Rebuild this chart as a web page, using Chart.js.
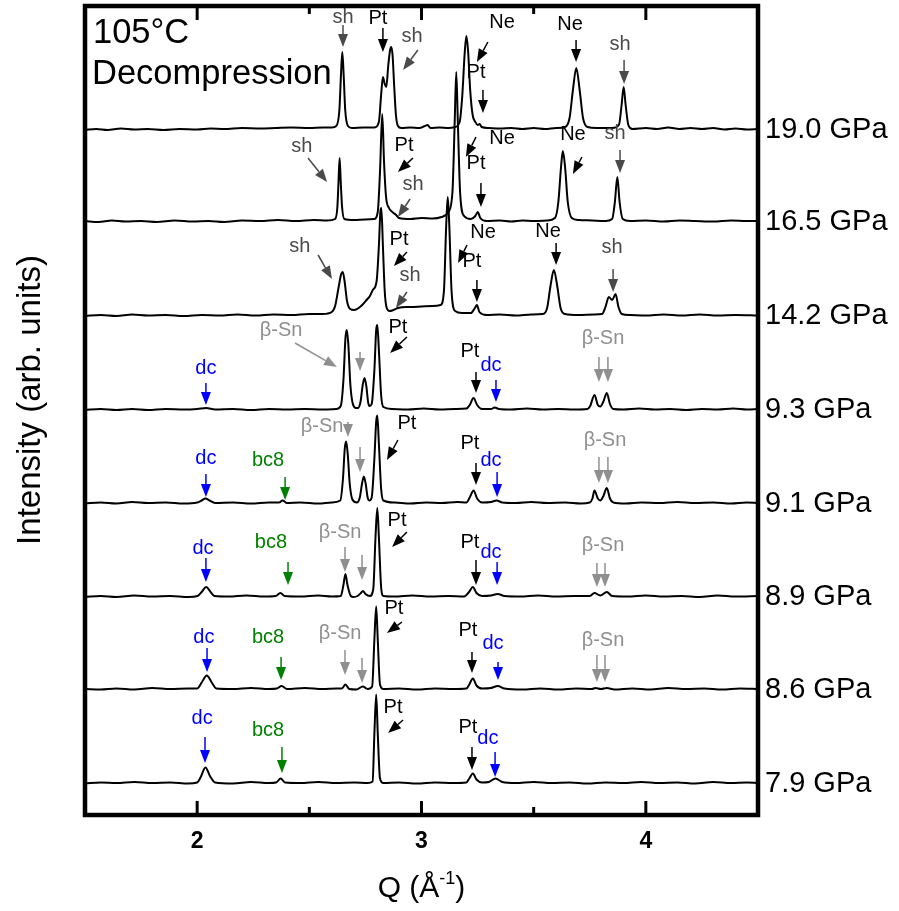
<!DOCTYPE html>
<html>
<head>
<meta charset="utf-8">
<script src="https://cdn.jsdelivr.net/npm/chart.js@4/dist/chart.umd.min.js"></script>
<style>
  html, body { margin: 0; padding: 0; background: #fff; }
  #wrap { width: 899px; height: 911px; }
</style>
</head>
<body>
<div id="wrap"><canvas id="xrd" width="899" height="911"></canvas></div>
<script>
// Axis range and ticks
const xMin = 1.5, xMax = 4.5;
const majorTicks = [2, 3, 4];
const minorTicks = [2.5, 3.5];
const yMax = 809;

// Pressures, top to bottom, and vertical offset of each pattern
const pressures = ['19.0 GPa', '16.5 GPa', '14.2 GPa', '9.3 GPa', '9.1 GPa', '8.9 GPa', '8.6 GPa', '7.9 GPa'];
const offsets = [685, 593, 499, 405, 311.5, 218, 125.5, 31.5];

// Patterns: [Q, intensity above baseline]
const p190 = [[1.50,0],[1.55,1],[1.60,0],[1.66,1.5],[1.72,0.5],[1.78,1],[1.85,0],[1.92,1],[2.00,0.5],[2.06,1.5],[2.12,1],[2.20,2],[2.28,1.5],[2.35,2],[2.42,2.5],[2.50,2],[2.56,2.5],[2.60,2.5],
  [2.620,4],[2.634,20],[2.641,55],[2.647,78],[2.653,55],[2.660,20],[2.672,4],[2.690,2],[2.740,2.5],[2.790,2.5],
  [2.810,8],[2.820,35],[2.828,53],[2.836,46],[2.843,43],[2.852,65],[2.860,80],[2.865,83],[2.871,75],[2.878,45],[2.886,15],[2.895,4],[2.910,2],
  [2.950,2.5],[2.990,2],[3.015,4],[3.027,5],[3.040,2],[3.080,2.5],[3.120,2],[3.150,3],[3.170,8],[3.182,35],[3.192,75],[3.200,94],[3.208,78],[3.217,40],[3.228,15],[3.240,8],[3.250,5],[3.259,6],[3.268,3],
  [3.300,2],[3.350,1.5],[3.400,2],[3.450,1],[3.500,2],[3.550,1],[3.600,2],[3.640,3],[3.660,12],[3.675,40],[3.690,62],[3.705,40],[3.720,12],[3.740,3],[3.780,2],[3.850,2],
  [3.880,5],[3.892,25],[3.901,43],[3.910,25],[3.922,5],[3.940,1],[4.00,2],[4.05,1],[4.10,2.5],[4.15,1],[4.20,2],[4.25,1],[4.30,2],[4.35,0.5],[4.40,1.5],[4.45,0.5],[4.50,1]];

const p165 = [[1.50,1],[1.56,0],[1.62,1.5],[1.68,0.5],[1.75,1],[1.82,0],[1.90,1.5],[1.98,0.5],[2.05,1],[2.12,0],[2.20,1.5],[2.28,1],[2.36,2],[2.44,1],[2.52,2],[2.58,1.5],
  [2.615,3],[2.625,15],[2.630,40],[2.635,64],[2.640,40],[2.646,15],[2.656,3],[2.700,2],[2.750,2.5],[2.790,3],
  [2.805,10],[2.815,50],[2.825,108],[2.833,60],[2.842,25],[2.855,14],[2.870,10],[2.887,7],[2.900,4],[2.950,3],[3.000,4],[3.050,3.5],[3.090,5],
  [3.120,10],[3.138,30],[3.148,100],[3.155,150],[3.162,100],[3.172,30],[3.190,6],[3.220,3],[3.240,6],[3.251,10],[3.262,4],[3.290,1],
  [3.350,1.5],[3.400,0.5],[3.450,1.5],[3.500,1],[3.560,1.5],[3.595,4],[3.610,20],[3.622,55],[3.630,71],[3.640,55],[3.652,20],[3.670,4],[3.700,2],[3.760,1.5],[3.820,1],
  [3.850,3],[3.862,20],[3.873,45],[3.883,20],[3.897,3],[3.930,1],[4.00,1.5],[4.08,0.5],[4.15,1.5],[4.22,1],[4.30,0.5],[4.38,1.5],[4.45,1],[4.50,1]];

const p142 = [[1.50,0],[1.57,1],[1.64,0],[1.71,1.5],[1.78,0.5],[1.86,1],[1.94,0],[2.02,1],[2.10,0.5],[2.18,1.5],[2.26,0.5],[2.34,1.5],[2.42,1],[2.50,2],[2.56,2],
  [2.600,4],[2.615,10],[2.630,28],[2.642,42],[2.649,44],[2.657,35],[2.668,15],[2.682,7],[2.700,6],[2.720,8],[2.740,12],[2.755,16],[2.770,20],[2.783,26],
  [2.800,35],[2.810,70],[2.817,105],[2.821,108],[2.828,70],[2.836,25],[2.845,8],[2.858,5],[2.875,6],[2.895,8],[2.950,9],[3.000,9.5],[3.050,10],[3.085,11],
  [3.100,25],[3.110,90],[3.117,119],[3.124,90],[3.134,25],[3.150,5],[3.180,3],[3.220,3],[3.238,8],[3.247,11],[3.258,4],[3.290,1],
  [3.350,1.5],[3.420,0.5],[3.490,1.5],[3.540,2],[3.560,8],[3.575,30],[3.590,46],[3.605,30],[3.620,8],[3.640,2],[3.700,1],[3.770,1.5],
  [3.805,2],[3.820,9],[3.835,19],[3.850,16],[3.865,22],[3.878,9],[3.893,2],[3.930,1],[4.00,0.5],[4.08,1.5],[4.16,0.5],[4.24,1.5],[4.32,0.5],[4.40,1],[4.50,0.5]];

const p93 = [[1.50,0],[1.57,1],[1.64,0],[1.71,1],[1.78,0],[1.86,1],[1.94,0.5],[2.00,1],[2.04,2],[2.08,0.5],[2.16,1],[2.24,0],[2.32,1],[2.40,0.5],[2.48,1],[2.56,0.5],[2.62,1],
  [2.640,4],[2.652,30],[2.661,72],[2.667,80],[2.674,65],[2.683,25],[2.694,6],[2.708,2],[2.716,2],[2.728,8],[2.738,25],[2.746,32],[2.754,24],[2.762,8],[2.768,4],
  [2.778,6],[2.790,40],[2.798,80],[2.803,85],[2.810,60],[2.820,15],[2.830,3],[2.870,1],[2.940,0.5],[3.010,1.5],[3.080,0.5],[3.150,1],
  [3.200,1.5],[3.215,5],[3.232,12],[3.248,5],[3.270,1],[3.310,1],[3.326,2.5],[3.345,1],[3.400,0.5],[3.470,1.5],[3.540,0.5],[3.610,1],[3.680,0.5],[3.740,1],
  [3.752,4],[3.771,15],[3.786,5],[3.797,3.5],[3.810,8],[3.826,17],[3.840,6],[3.855,1],[3.90,0.5],[3.97,1.5],[4.04,0.5],[4.11,1],[4.18,0],[4.25,1],[4.32,0.5],[4.39,1.5],[4.45,0.5],[4.50,1]];

const p91 = [[1.50,0],[1.57,1],[1.64,0],[1.71,1.5],[1.78,0.5],[1.86,1],[1.94,0],[2.00,1],[2.020,3],[2.037,5],[2.055,3],[2.080,0.5],[2.16,1],[2.24,0],[2.32,1],[2.365,1],[2.381,3],[2.400,0.5],[2.46,1],[2.54,0],[2.60,1],
  [2.638,3],[2.650,25],[2.658,55],[2.664,62],[2.671,50],[2.680,20],[2.692,4],[2.712,1],[2.725,6],[2.735,20],[2.743,27],[2.751,20],[2.760,6],[2.768,3],
  [2.778,6],[2.790,45],[2.798,82],[2.803,88],[2.810,60],[2.820,15],[2.830,3],[2.880,1],[2.950,0],[3.020,1],[3.090,0.5],[3.160,1.5],
  [3.200,1],[3.215,6],[3.232,13],[3.248,5],[3.270,1],[3.310,1.5],[3.335,3],[3.360,1],[3.420,0.5],[3.490,1.5],[3.560,0.5],[3.640,1],[3.710,0],[3.750,1],
  [3.762,5],[3.771,13],[3.786,5],[3.797,3],[3.810,7],[3.826,15.5],[3.840,5],[3.855,1],[3.91,0],[3.98,1],[4.06,0.5],[4.14,1.5],[4.22,0.5],[4.30,1],[4.38,0],[4.45,1],[4.50,0.5]];

const p89 = [[1.50,0],[1.57,1],[1.64,0],[1.72,1.5],[1.80,0.5],[1.88,1],[1.96,0],[2.002,1],[2.020,5],[2.040,10],[2.060,5],[2.077,1],[2.14,0.5],[2.22,1.5],[2.30,0.5],[2.350,1],[2.371,4],[2.390,1],[2.46,0.5],[2.54,1.5],[2.60,0.5],
  [2.640,1],[2.652,12],[2.661,23],[2.670,12],[2.685,1],[2.697,0],[2.715,1],[2.730,4],[2.739,6],[2.750,3],[2.770,1],
  [2.785,8],[2.795,60],[2.803,89],[2.810,60],[2.820,10],[2.830,1],[2.880,0.5],[2.960,1.5],[3.040,0.5],[3.120,1],[3.190,0.5],
  [3.212,5],[3.229,10],[3.245,4],[3.270,1],[3.310,1.5],[3.340,3],[3.370,1],[3.440,0.5],[3.520,1.5],[3.600,0.5],[3.680,1],[3.750,1],
  [3.771,4],[3.797,1.5],[3.826,5],[3.850,1],[3.92,0.5],[4.00,1.5],[4.08,0.5],[4.16,1],[4.24,0],[4.32,1.5],[4.40,0.5],[4.50,1]];

const p86 = [[1.50,0.5],[1.57,0],[1.64,1],[1.72,0],[1.80,1.5],[1.88,0.5],[1.96,1],[2.000,1],[2.020,7],[2.043,14],[2.065,7],[2.085,1],[2.16,0.5],[2.24,1.5],[2.32,0.5],[2.355,1],[2.377,3.5],[2.400,0.5],[2.48,1.5],[2.56,0.5],[2.62,1],
  [2.645,1],[2.661,5],[2.678,0.5],[2.710,0],[2.738,3],[2.760,0.5],[2.780,3],[2.790,50],[2.798,83],[2.805,50],[2.815,5],[2.830,0.5],[2.900,1],[2.980,0],[3.060,1],[3.140,0.5],
  [3.200,1],[3.213,5],[3.229,11],[3.245,4],[3.270,1],[3.310,1.5],[3.340,3.5],[3.370,1],[3.450,0],[3.530,1],[3.610,0],[3.690,1],[3.760,0.5],
  [3.775,1.5],[3.800,0.5],[3.826,1.5],[3.860,0],[3.94,1],[4.02,0],[4.10,1.5],[4.18,0.5],[4.26,1],[4.34,0],[4.42,1],[4.50,0.5]];

const p79 = [[1.50,0],[1.57,1],[1.64,0.5],[1.72,1.5],[1.80,0.5],[1.88,1],[1.96,0],[2.000,1],[2.015,6],[2.037,16],[2.058,7],[2.080,1],[2.16,0],[2.24,1.5],[2.32,0.5],[2.352,1],[2.372,5],[2.392,1],[2.46,0.5],[2.54,1.5],[2.62,0.5],[2.70,1],
  [2.760,0.5],[2.782,2],[2.790,50],[2.798,89],[2.805,50],[2.815,5],[2.830,0.5],[2.900,1],[2.980,0],[3.060,1],[3.140,0.5],
  [3.200,1],[3.213,5],[3.229,10],[3.245,4],[3.270,1],[3.300,1.5],[3.330,5],[3.360,1.5],[3.420,0.5],[3.500,1.5],[3.580,0.5],[3.660,1],[3.740,0],[3.820,1],[3.900,0.5],
  [3.980,1.5],[4.060,0.5],[4.140,1],[4.220,0],[4.300,1.5],[4.380,0.5],[4.450,1],[4.500,0.5]];

const patterns = [p190, p165, p142, p93, p91, p89, p86, p79];

// Phase markers: [text, phase, Q, y]
const markerText = [
  ['sh','sh',2.650,798],['Pt','Pt',2.806,797],['sh','sh',2.958,779],['Ne','Pt',3.359,793],['Pt','Pt',3.243,743],['Ne','Pt',3.662,791],['sh','sh',3.885,771],
  ['sh','sh',2.467,669],['Pt','Pt',2.922,670],['sh','sh',2.962,631],['Ne','Pt',3.359,677],['Pt','Pt',3.243,652],['Ne','Pt',3.675,681],['sh','sh',3.863,682],
  ['sh','sh',2.458,569],['Pt','Pt',2.900,576],['sh','sh',2.949,540],['Ne','Pt',3.274,583],['Pt','Pt',3.225,554],['Ne','Pt',3.564,584],['sh','sh',3.849,568],
  ['dc','dc',2.039,447],['β-Sn','bSn',2.374,485],['Pt','Pt',2.895,488],['Pt','Pt',3.216,464],['dc','dc',3.310,450],['β-Sn','bSn',3.809,477],
  ['dc','dc',2.039,357],['bc8','bc8',2.316,355],['β-Sn','bSn',2.557,389],['Pt','Pt',2.935,392],['Pt','Pt',3.216,372],['dc','dc',3.310,355],['β-Sn','bSn',3.818,375],
  ['dc','dc',2.026,267],['bc8','bc8',2.329,273],['β-Sn','bSn',2.637,283],['Pt','Pt',2.891,295],['Pt','Pt',3.216,273],['dc','dc',3.310,263],['β-Sn','bSn',3.809,270],
  ['dc','dc',2.030,178],['bc8','bc8',2.316,178],['β-Sn','bSn',2.637,182],['Pt','Pt',2.877,207],['Pt','Pt',3.207,185],['dc','dc',3.319,172],['β-Sn','bSn',3.809,175],
  ['dc','dc',2.022,97],['bc8','bc8',2.316,85],['Pt','Pt',2.873,108],['Pt','Pt',3.207,88],['dc','dc',3.296,77]
];

// Marker arrows: [phase, Q from, y from, Q to, y to]
const markerArrows = [
  ['sh',2.650,790,2.650,768],['Pt',2.828,787,2.828,763],['sh',2.984,765,2.918,745],['Pt',3.296,773,3.247,753],['Pt',3.274,725,3.274,702],['Pt',3.689,775,3.689,753],['sh',3.903,755,3.903,731],
  ['sh',2.494,657,2.579,633],['Pt',2.962,657,2.895,643],['sh',2.949,616,2.895,598],['Pt',3.243,678,3.198,658],['Pt',3.265,632,3.265,608],['Pt',3.715,658,3.675,641],['sh',3.885,665,3.885,642],
  ['sh',2.539,560,2.601,536],['Pt',2.935,563,2.877,549],['sh',2.935,523,2.886,507],['Pt',3.203,570,3.163,552],['Pt',3.247,535,3.247,513],['Pt',3.600,572,3.600,550],['sh',3.854,546,3.854,523],
  ['dc',2.039,432,2.039,410],['bSn',2.436,472,2.623,448],['bSn',2.726,463,2.726,444],['Pt',2.935,478,2.860,462],['Pt',3.243,443,3.243,422],['dc',3.332,435,3.332,413],['bSn',3.791,458,3.791,433],['bSn',3.831,458,3.831,433],
  ['dc',2.039,341,2.039,318],['bc8',2.392,338,2.392,315],['bSn',2.672,393,2.672,378],['bSn',2.726,368,2.726,343],['Pt',2.895,375,2.846,355],['Pt',3.243,352,3.243,330],['dc',3.337,343,3.337,318],['bSn',3.791,358,3.791,332],['bSn',3.831,358,3.831,332],
  ['dc',2.039,257,2.039,233],['bc8',2.405,253,2.405,230],['bSn',2.659,268,2.659,243],['bSn',2.735,260,2.735,235],['Pt',2.935,283,2.869,268],['Pt',3.243,255,3.243,230],['dc',3.337,253,3.337,230],['bSn',3.782,252,3.782,228],['bSn',3.818,252,3.818,228],
  ['dc',2.044,167,2.044,143],['bc8',2.374,158,2.374,135],['bSn',2.659,165,2.659,140],['bSn',2.735,157,2.735,132],['Pt',2.913,193,2.846,182],['Pt',3.225,163,3.225,142],['dc',3.341,153,3.341,135],['bSn',3.782,160,3.782,133],['bSn',3.818,160,3.818,133],
  ['dc',2.035,78,2.035,52],['bc8',2.378,68,2.378,42],['Pt',2.918,95,2.851,82],['Pt',3.225,68,3.225,45],['dc',3.328,63,3.328,38]
];

const phaseColors = { Pt: '#000000', sh: '#4a4a4a', bSn: '#8f8f8f', dc: '#0000ff', bc8: '#008000' };
const FONT = "'Liberation Sans', Arial, sans-serif";

function drawArrow(ctx, x1, y1, x2, y2, color) {
  const ang = Math.atan2(y2 - y1, x2 - x1);
  const hl = 13, hw = 5;
  const bx = x2 - hl * Math.cos(ang), by = y2 - hl * Math.sin(ang);
  ctx.strokeStyle = color;
  ctx.lineWidth = 1.5;
  ctx.beginPath();
  ctx.moveTo(x1, y1);
  ctx.lineTo(bx, by);
  ctx.stroke();
  ctx.fillStyle = color;
  ctx.beginPath();
  ctx.moveTo(x2, y2);
  ctx.lineTo(bx + hw * Math.sin(ang), by - hw * Math.cos(ang));
  ctx.lineTo(bx - hw * Math.sin(ang), by + hw * Math.cos(ang));
  ctx.closePath();
  ctx.fill();
}

// Frame, inward ticks, tick labels, markers and titles
const decor = {
  id: 'decor',
  afterDatasetsDraw(chart) {
    const { ctx, chartArea: a, scales: { x, y } } = chart;
    ctx.save();

    // markers
    markerArrows.forEach(m => {
      drawArrow(ctx, x.getPixelForValue(m[1]), y.getPixelForValue(m[2]),
        x.getPixelForValue(m[3]), y.getPixelForValue(m[4]), phaseColors[m[0]]);
    });
    ctx.font = '20px ' + FONT;
    ctx.textAlign = 'center';
    ctx.textBaseline = 'middle';
    markerText.forEach(m => {
      ctx.fillStyle = phaseColors[m[1]];
      ctx.fillText(m[0], x.getPixelForValue(m[2]), y.getPixelForValue(m[3]));
    });

    // frame
    ctx.strokeStyle = '#000';
    ctx.lineWidth = 4.5;
    ctx.strokeRect(a.left, a.top, a.right - a.left, a.bottom - a.top);

    // inward ticks
    ctx.lineWidth = 3;
    const tick = (v, len) => {
      const px = x.getPixelForValue(v);
      ctx.beginPath();
      ctx.moveTo(px, a.bottom); ctx.lineTo(px, a.bottom - len);
      ctx.moveTo(px, a.top); ctx.lineTo(px, a.top + len);
      ctx.stroke();
    };
    majorTicks.forEach(v => tick(v, 14));
    minorTicks.forEach(v => tick(v, 8));

    // tick labels
    ctx.fillStyle = '#000';
    ctx.font = 'bold 23px ' + FONT;
    majorTicks.forEach(v => ctx.fillText(String(v), x.getPixelForValue(v), a.bottom + 27));

    // pressure labels
    ctx.font = '29px ' + FONT;
    ctx.textAlign = 'left';
    pressures.forEach((p, i) => {
      ctx.fillText(p, a.right + 7, y.getPixelForValue(offsets[i]));
    });

    // condition text
    ctx.font = '34.5px ' + FONT;
    ctx.textBaseline = 'alphabetic';
    ctx.fillText('105°C', a.left + 8, a.top + 37);
    ctx.fillText('Decompression', a.left + 7, a.top + 78);

    // x title with superscript
    const cx = (a.left + a.right) / 2;
    const ty = 897;
    ctx.font = '30px ' + FONT;
    const w1 = ctx.measureText('Q (Å').width;
    const w3 = ctx.measureText(')').width;
    ctx.font = '18px ' + FONT;
    const w2 = ctx.measureText('-1').width;
    let sx = cx - (w1 + w2 + w3) / 2;
    ctx.font = '30px ' + FONT;
    ctx.fillText('Q (Å', sx, ty);
    ctx.font = '18px ' + FONT;
    ctx.fillText('-1', sx + w1, ty - 13);
    ctx.font = '30px ' + FONT;
    ctx.fillText(')', sx + w1 + w2, ty);

    // y title
    ctx.translate(31, 400);
    ctx.rotate(-Math.PI / 2);
    ctx.textAlign = 'center';
    ctx.textBaseline = 'middle';
    ctx.font = '33px ' + FONT;
    ctx.fillText('Intensity (arb. units)', 0, 0);
    ctx.restore();
  }
};

const datasets = patterns.map((pat, i) => ({
  label: pressures[i],
  data: pat.map(p => ({ x: p[0], y: offsets[i] + p[1] })),
  borderColor: '#000',
  borderWidth: 2,
  pointRadius: 0,
  fill: false,
  cubicInterpolationMode: 'monotone'
}));

new Chart(document.getElementById('xrd'), {
  type: 'line',
  data: { datasets },
  options: {
    responsive: false,
    animation: false,
    devicePixelRatio: 1,
    layout: { padding: { left: 85, right: 141, top: 6, bottom: 0 } },
    plugins: { legend: { display: false }, tooltip: { enabled: false } },
    scales: {
      x: {
        type: 'linear',
        min: xMin,
        max: xMax,
        afterBuildTicks: s => { s.ticks = majorTicks.map(v => ({ value: v })); },
        afterFit: s => { s.height = 96; },
        grid: { display: false, drawTicks: false },
        border: { display: false },
        ticks: { display: false }
      },
      y: { display: false, min: 0, max: yMax }
    }
  },
  plugins: [decor]
});
</script>
</body>
</html>
